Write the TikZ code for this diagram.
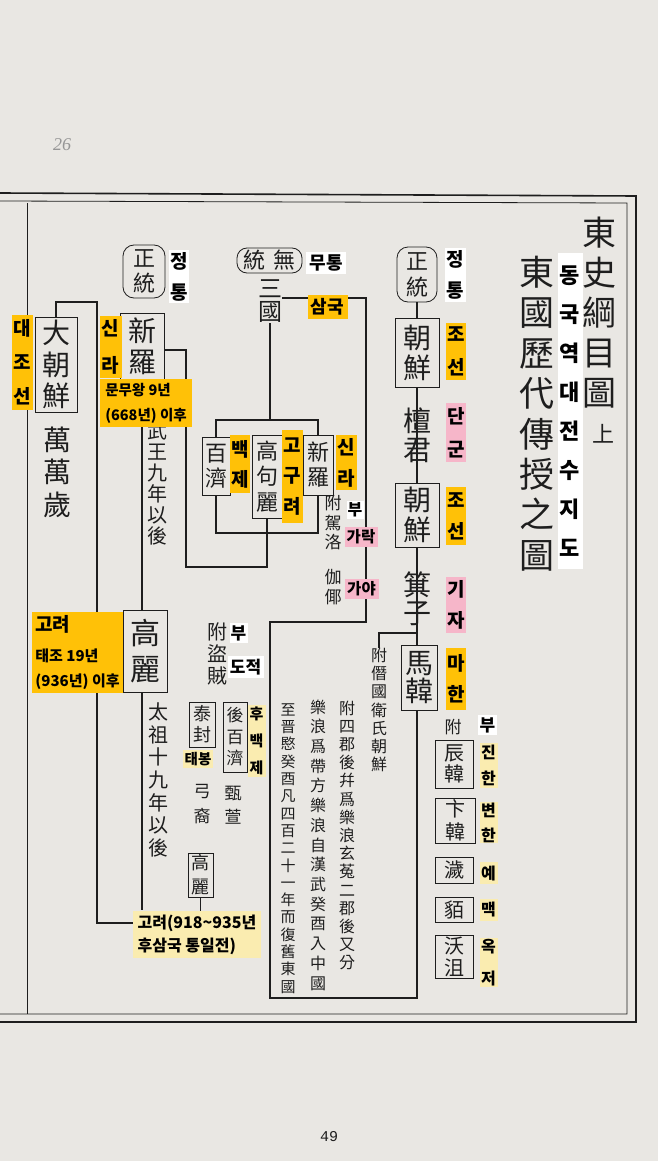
\documentclass[tikz,border=0pt]{standalone}
\usepackage{fontspec}
\setmainfont{Liberation Serif}
\newfontfamily\cjk{Noto Sans CJK TC}
\newfontfamily\kr{Noto Sans CJK KR}
\newfontfamily\monof{Liberation Mono}
\definecolor{paper}{RGB}{233,231,227}
\definecolor{ink}{RGB}{30,30,30}
\definecolor{ylw}{RGB}{255,193,7}
\definecolor{lyl}{RGB}{250,236,176}
\definecolor{pnk}{RGB}{246,182,201}
\definecolor{pencil}{RGB}{150,150,150}
\newcommand{\fs}[2]{\fontsize{#1}{#2}\selectfont\lineskiplimit=-60pt\relax}
\newcommand{\HZ}[2]{\cjk\fs{#1}{#2}}
\newcommand{\KO}[2]{\kr\bfseries\fs{#1}{#2}}
\tikzset{
  han/.style={inner sep=0pt, align=center, text=ink},
  cbox/.style={draw=ink, line width=0.8pt, inner sep=0pt, align=center, text=ink},
  rbox/.style={cbox, rounded corners=11pt},
  lab/.style={inner sep=0pt, align=center, text=black},
  ylab/.style={lab, fill=ylw},
  plab/.style={lab, fill=pnk},
  llab/.style={lab, fill=lyl},
  wlab/.style={lab, fill=white},
  link/.style={draw=ink, line width=1.3pt},
  frame/.style={draw=ink, line width=0.8pt},
  heavy/.style={draw=ink, line width=1.6pt}
}
\begin{document}
\begin{tikzpicture}[x=1pt,y=-1pt]
\useasboundingbox (0,0) rectangle (658,1161);
\fill[paper] (0,0) rectangle (658,1161);

% ---------- frame ----------
\coordinate (fa) at (0,193);   \coordinate (fb) at (636,196);
\coordinate (fc) at (0,201);   \coordinate (fd) at (627,203);
\coordinate (fe) at (27,203);  \coordinate (ff) at (27,1014);
\coordinate (fg) at (627,1014);\coordinate (fh) at (636,1022);
\coordinate (fi) at (0,1014);  \coordinate (fj) at (0,1022);
\draw[heavy] (fa) -- (fb) -- (fh) -- (fj);
\draw[frame] (fc) -- (fd) -- (fg) -- (fi);
\draw[frame] (fe) -- (ff);

% ---------- page marks ----------
\node[text=pencil, font={\itshape\fs{18}{20}}] (pg26) at (62,145) {26};
\node[text=ink, font={\monof\fs{15}{18}}] (pg49) at (329,1137) {49};

% ---------- title ----------
\node[han, font={\HZ{34}{40}}] (t1) at (599,313) {東\\史\\綱\\目\\圖};
\node[han, font={\HZ{22}{24}}] (t1b) at (603,434) {上};
\node[han, font={\HZ{35}{40.4}}] (t2) at (537,413.5) {東\\國\\歷\\代\\傳\\授\\之\\圖};
\node[wlab, minimum width=25pt, minimum height=316pt, font={\KO{22}{39}}] (t2k) at (570,411) {동\\국\\역\\대\\전\\수\\지\\도};

% ---------- right column (Joseon line) ----------
\node[rbox, minimum width=40pt, minimum height=55pt, font={\HZ{22}{26}}] (rzt) at (417,274.5) {正\\統};
\node[cbox, minimum width=44pt, minimum height=69pt, font={\HZ{28}{30}}] (rcs1) at (417,352.5) {朝\\鮮};
\node[han, font={\HZ{28}{29}}] (rdg) at (417,435.5) {檀\\君};
\node[cbox, minimum width=44pt, minimum height=64pt, font={\HZ{28}{30}}] (rcs2) at (417,515) {朝\\鮮};
\node[han, font={\HZ{28}{28}}] (rgj) at (417,599) {箕\\子};
\node[cbox, minimum width=36pt, minimum height=65pt, font={\HZ{28}{28}}] (rmh) at (419,677.5) {馬\\韓};
\node[han, font={\HZ{16}{18.3}}] (rwei) at (379,710) {附\\僭\\國\\衛\\氏\\朝\\鮮};

\coordinate (rbr) at (417,633);
\coordinate (bxBR) at (417,998);
\coordinate (bxBL) at (270,998);
\coordinate (bxTL) at (270,622);
\coordinate (bxTR) at (366,622);
\coordinate (sgR) at (366,298);

% ---------- centre (Three Kingdoms) ----------
\node[rbox, minimum width=65pt, minimum height=25pt, rounded corners=10pt, font={\HZ{22}{24}}] (cwt) at (269.5,260.5) {統\hspace{8pt}無};
\node[han, font={\HZ{24}{23}}] (csg) at (270,301.5) {三\\國};
\node[cbox, minimum width=28pt, minimum height=58pt, font={\HZ{22}{25}}] (cbj) at (216,466) {百\\濟};
\node[cbox, minimum width=30pt, minimum height=83pt, font={\HZ{22}{25.5}}] (cgg) at (267,476.5) {高\\句\\麗};
\node[cbox, minimum width=30pt, minimum height=60pt, font={\HZ{22}{25}}] (csl) at (318,465) {新\\羅};
\node[han, font={\HZ{17}{19.5}}] (cgl) at (333,523) {附\\駕\\洛};
\node[han, font={\HZ{17}{20}}] (cgy) at (333,587) {伽\\倻};
\coordinate (cbt) at (269,420);
\coordinate (cbb) at (269,533);
\coordinate (cbl) at (186,567);
\coordinate (lslj) at (186,350);

% ---------- left (Silla / Goryeo / Great Joseon) ----------
\node[rbox, minimum width=42pt, minimum height=53pt, font={\HZ{22}{25}}] (lzt) at (144,271.5) {正\\統};
\node[cbox, minimum width=44pt, minimum height=67pt, font={\HZ{28}{31}}] (lsl) at (142,346.5) {新\\羅};
\node[han, font={\HZ{20}{21}}] (lmw) at (157,473) {文\\武\\王\\九\\年\\以\\後};
\node[cbox, minimum width=42pt, minimum height=95pt, font={\HZ{28}{31.5}}] (ldj) at (56,364.5) {大\\朝\\鮮};
\node[han, font={\HZ{28}{32.5}}] (lmm) at (57,472) {萬\\萬\\歲};
\node[cbox, minimum width=44pt, minimum height=82pt, font={\HZ{30}{36}}] (lgr) at (145,651) {高\\麗};
\node[han, font={\HZ{20}{22.6}}] (ltj) at (158,780) {太\\祖\\十\\九\\年\\以\\後};
\node[han, font={\HZ{20}{22}}] (ldz) at (217,654) {附\\盜\\賊};
\node[cbox, minimum width=26pt, minimum height=45pt, font={\HZ{18}{21}}] (ltb) at (202,724.5) {泰\\封};
\node[han, font={\HZ{17}{25}}] (lgy) at (202,804.5) {弓\\裔};
\node[cbox, minimum width=24pt, minimum height=70pt, font={\HZ{17}{21.5}}] (lhb) at (235,737) {後\\百\\濟};
\node[han, font={\HZ{17}{24}}] (ljh) at (233,805) {甄\\萱};
\node[cbox, minimum width=25pt, minimum height=44pt, font={\HZ{18}{24}}] (l2gr) at (200.5,875) {高\\麗};
\coordinate (ldjT) at (56,302);
\coordinate (ldjR) at (97,302);
\coordinate (ldjB) at (97,923);

% ---------- four commanderies note ----------
\node[han, font={\HZ{16}{18.2}}] (sgA) at (347,835.5) {附\\四\\郡\\後\\幷\\爲\\樂\\浪\\玄\\菟\\二\\郡\\後\\又\\分};
\node[han, font={\HZ{16}{19.7}}] (sgB) at (318,845) {樂\\浪\\爲\\帶\\方\\樂\\浪\\自\\漢\\武\\癸\\酉\\入\\中\\國};
\node[han, font={\HZ{15}{17.3}}] (sgC) at (288,848.5) {至\\晋\\愍\\癸\\酉\\凡\\四\\百\\二\\十\\一\\年\\而\\復\\舊\\東\\國};

% ---------- right lower list ----------
\node[han, font={\HZ{17}{20}}] (rb) at (453,727) {附};
\node[cbox, minimum width=38pt, minimum height=48pt, font={\HZ{20}{21}}] (rjh) at (454,764) {辰\\韓};
\node[cbox, minimum width=40pt, minimum height=45pt, font={\HZ{20}{23}}] (rbh) at (455,820.5) {卞\\韓};
\node[cbox, minimum width=38pt, minimum height=26pt, font={\HZ{20}{22}}] (rye) at (454,870) {濊};
\node[cbox, minimum width=38pt, minimum height=25pt, font={\HZ{20}{22}}] (rmk) at (454,909.5) {貊};
\node[cbox, minimum width=38pt, minimum height=43pt, font={\HZ{20}{22}}] (roj) at (454,956.5) {沃\\沮};

% ---------- connectors ----------
\draw[link] (rzt.south) -- (rcs1.north) (rcs1.south) -- (rcs2.north) (rcs2.south) -- (rmh.north -| rcs2.south);
\draw[link] (rbr) -| (rwei.north);
\draw[link] (rmh.south -| rcs2.south) -- (bxBR) -- (bxBL) -- (bxTL) -- (bxTR) -- (sgR) -- (csg.east |- sgR);
\draw[link] (csg.south) -- (csg.south |- cbt);
\draw[link] (cbj.north) |- (csl.north |- cbt) -- (csl.north);
\draw[link] (cbj.south) |- (csl.south |- cbb) -- (csl.south);
\draw[link] (cgg.south) -- (cgg.south |- cbl) -- (cbl) -- (lslj) -- (lsl.east |- lslj);
\draw[link] (lsl.south) -- (lgr.north -| lsl.south);
\draw[link] (lgr.south -| lsl.south) -- (lsl.south |- 0,910);
\draw[link] (ldj.north) -- (ldjT) -- (ldjR) -- (ldjB) -- (l2gr.south |- ldjB) -- (l2gr.south);

% ---------- Korean labels ----------
\node[wlab, minimum width=21pt, minimum height=54pt, font={\KO{19}{31}}] (rztk) at (455,275) {정\\통};
\node[ylab, minimum width=20pt, minimum height=57pt, font={\KO{19}{33}}] (rcs1k) at (456,351.5) {조\\선};
\node[plab, minimum width=20pt, minimum height=59pt, font={\KO{19}{33}}] (rdgk) at (456,432.5) {단\\군};
\node[ylab, minimum width=20pt, minimum height=58pt, font={\KO{19}{31}}] (rcs2k) at (456,516) {조\\선};
\node[plab, minimum width=20pt, minimum height=56pt, font={\KO{19}{31}}] (rgjk) at (456,605) {기\\자};
\node[ylab, minimum width=20pt, minimum height=62pt, font={\KO{19}{31}}] (rmhk) at (456,679) {마\\한};

\node[wlab, minimum width=40pt, minimum height=22pt, font={\KO{18}{20}}] (cwtk) at (326,262.5) {무통};
\node[ylab, minimum width=40pt, minimum height=24pt, font={\KO{18}{20}}] (csgk) at (327.5,306.5) {삼국};
\node[ylab, minimum width=20pt, minimum height=58pt, font={\KO{19}{30}}] (cbjk) at (240,464) {백\\제};
\node[ylab, minimum width=21pt, minimum height=93pt, font={\KO{19}{30.5}}] (cggk) at (292,476.5) {고\\구\\려};
\node[ylab, minimum width=21pt, minimum height=55pt, font={\KO{19}{31}}] (cslk) at (346,462.5) {신\\라};
\node[wlab, minimum width=17pt, minimum height=18pt, font={\KO{16}{18}}] (cglk1) at (355,510) {부};
\node[plab, minimum width=33pt, minimum height=20pt, font={\KO{15.5}{18}}] (cglk2) at (361,537) {가락};
\node[plab, minimum width=34pt, minimum height=20pt, font={\KO{15.5}{18}}] (cgyk) at (361.5,589) {가야};

\node[wlab, minimum width=20pt, minimum height=53pt, font={\KO{19}{31}}] (lztk) at (179,276.5) {정\\통};
\node[ylab, minimum width=22pt, minimum height=62pt, font={\KO{19}{37}}] (lslk) at (110.5,347) {신\\라};
\node[ylab, minimum width=92pt, minimum height=48pt, align=left, font={\KO{14.5}{25}}] (lmwk) at (146,403) {문무왕 9년\\(668년) 이후};
\node[ylab, minimum width=21pt, minimum height=95pt, font={\KO{19}{34}}] (ldjk) at (22,362.5) {대\\조\\선};
\node[ylab, minimum width=91pt, minimum height=81pt, align=left, font={\KO{15}{25}}] (lgrk) at (77.5,652.5) {{\fs{19}{22}고려}\\[5pt]태조 19년\\(936년) 이후};
\node[wlab, minimum width=18pt, minimum height=20pt, font={\KO{17}{18}}] (ldzk1) at (238.5,633) {부};
\node[wlab, minimum width=36pt, minimum height=22pt, font={\KO{17}{18}}] (ldzk2) at (245.5,667) {도적};
\node[llab, minimum width=30pt, minimum height=18pt, font={\KO{14.5}{16}}] (ltbk) at (198,759) {태봉};
\node[llab, minimum width=18pt, minimum height=72pt, font={\KO{15}{27}}] (lhbk) at (256.5,741) {후\\백\\제};
\node[llab, minimum width=128pt, minimum height=47pt, align=left, font={\KO{16}{23}}] (l2grk) at (197,934.5) {고려(918\textasciitilde935년\\후삼국 통일전)};

\node[wlab, minimum width=19pt, minimum height=20pt, font={\KO{17}{18}}] (rbk) at (487.5,725) {부};
\node[llab, minimum width=18pt, minimum height=45pt, font={\KO{16}{26}}] (rjhk) at (488.5,765.5) {진\\한};
\node[llab, minimum width=18pt, minimum height=41pt, font={\KO{16}{25}}] (rbhk) at (488.5,822.5) {변\\한};
\node[llab, minimum width=18pt, minimum height=22pt, font={\KO{16}{18}}] (ryek) at (488.5,873) {예};
\node[llab, minimum width=18pt, minimum height=22pt, font={\KO{16}{18}}] (rmkk) at (488.5,910) {맥};
\node[llab, minimum width=18pt, minimum height=49pt, font={\KO{16}{32}}] (rojk) at (488.5,962.5) {옥\\저};
\end{tikzpicture}
\end{document}
